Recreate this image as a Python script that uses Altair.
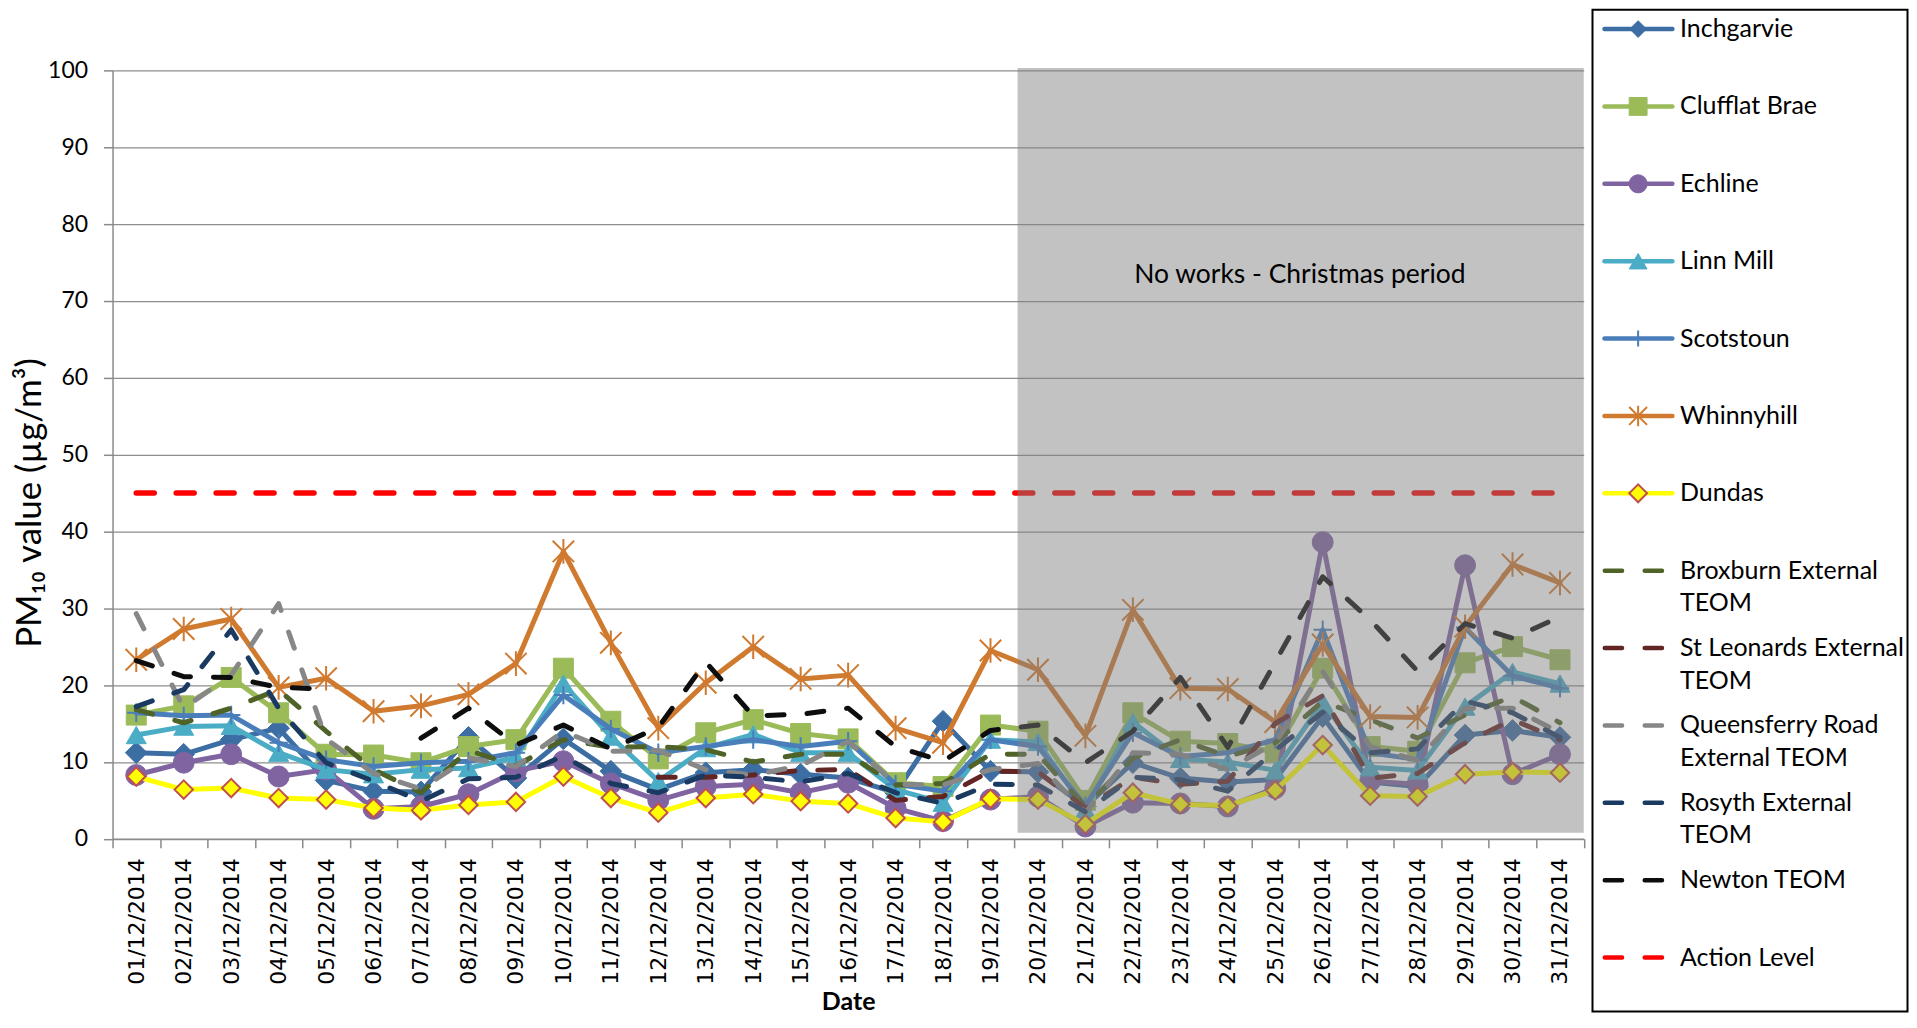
import json
import altair as alt
import pandas as pd

# ---------------- data ----------------
dates = ["01/12/2014", "02/12/2014", "03/12/2014", "04/12/2014", "05/12/2014",
         "06/12/2014", "07/12/2014", "08/12/2014", "09/12/2014", "10/12/2014",
         "11/12/2014", "12/12/2014", "13/12/2014", "14/12/2014", "15/12/2014",
         "16/12/2014", "17/12/2014", "18/12/2014", "19/12/2014", "20/12/2014",
         "21/12/2014", "22/12/2014", "23/12/2014", "24/12/2014", "25/12/2014",
         "26/12/2014", "27/12/2014", "28/12/2014", "29/12/2014", "30/12/2014",
         "31/12/2014"]
days = list(range(1, 32))

inchgarvie = [11.2, 11.0, 12.9, 14.4, 7.6, 6.2, 6.1, 13.2, 7.9, 13.0, 8.8, 6.4, 8.6, 9.0, 8.4, 7.9,
              6.0, 15.3, 8.8, 8.7, 4.2, 9.9, 7.9, 7.4, 7.7, 15.9, 7.4, 6.8, 13.5, 14.1, 13.2]
clufflat = [16.1, 17.3, 21.0, 16.4, 11.0, 10.9, 9.9, 12.0, 12.9, 22.2, 15.3, 10.4, 13.8, 15.5, 13.7, 13.0,
            7.3, 6.8, 14.8, 14.0, 5.0, 16.4, 12.7, 12.4, 11.3, 22.2, 12.0, 11.4, 22.9, 25.0, 23.3]
echline = [8.3, 9.9, 11.0, 8.1, 9.0, 3.9, 4.2, 5.8, 8.8, 10.1, 7.2, 5.0, 6.8, 7.1, 6.0, 7.3,
           4.0, 2.3, 5.1, 5.5, 1.6, 4.7, 4.6, 4.2, 6.6, 38.6, 7.5, 7.1, 35.6, 8.4, 11.0]
linn_mill = [13.5, 14.6, 14.7, 11.2, 9.0, 8.4, 9.0, 9.2, 10.6, 20.2, 13.3, 7.5, 11.8, 13.6, 11.2, 11.2,
             6.4, 4.7, 12.9, 12.6, 3.8, 15.2, 10.4, 10.0, 8.9, 17.8, 9.3, 8.9, 17.2, 21.7, 20.2]
scotstoun = [16.4, 16.0, 16.1, 12.5, 10.3, 9.4, 9.9, 10.1, 11.2, 18.7, 14.3, 11.2, 12.0, 12.9, 12.0, 12.7,
             7.1, 6.2, 12.9, 12.0, 4.3, 13.8, 10.7, 11.2, 12.9, 27.2, 11.2, 10.3, 27.5, 21.2, 19.6]
whinnyhill = [23.3, 27.3, 28.6, 19.7, 20.9, 16.6, 17.3, 18.8, 22.8, 37.4, 25.5, 14.4, 20.3, 25.0, 20.8, 21.3,
              14.4, 12.5, 24.5, 22.0, 13.4, 29.8, 19.6, 19.5, 15.2, 25.3, 15.9, 15.8, 27.6, 35.7, 33.3]
dundas = [8.1, 6.4, 6.6, 5.3, 5.1, 4.0, 3.7, 4.4, 4.8, 8.1, 5.3, 3.4, 5.3, 5.8, 4.9, 4.6,
          2.7, 2.2, 5.2, 5.1, 1.9, 6.0, 4.5, 4.3, 6.3, 12.2, 5.6, 5.5, 8.4, 8.7, 8.6]
broxburn = [16.8, 15.1, 17.0, 19.4, 14.0, 9.0, 6.0, 11.5, 9.5, 12.9, 11.9, 12.0, 11.6, 10.0, 11.0, 11.0,
            7.0, 7.2, 11.0, 11.0, 4.2, 10.5, 12.9, 10.7, 12.5, 17.9, 15.5, 13.1, 16.1, 18.5, 15.1]
st_leonards = [None, None, None, None, None, None, None, None, None, None, None, 8.0, 8.0, 8.3, 8.9, 9.0,
               5.0, 5.5, 8.8, 8.7, 4.0, 8.0, 7.1, 7.5, 15.0, 18.6, 7.9, 8.5, 12.5, 15.5, 12.9]
queensferry = [29.3, 17.0, 21.3, 30.6, 13.0, 8.5, 6.5, 10.5, 9.4, 14.0, 11.4, 11.5, 9.0, 8.3, 9.5, 12.7,
               7.1, 7.0, 9.0, 9.8, 3.4, 11.2, 11.0, 9.0, 12.5, 21.8, 12.0, 10.2, 17.0, 17.0, 13.8]
rosyth = [17.2, 19.4, 27.2, 17.0, 9.9, 7.5, 4.9, 7.8, 8.0, 10.8, 7.2, 6.0, 8.3, 8.0, 7.4, 8.5,
          6.0, 4.6, 7.1, 7.0, 3.5, 8.0, 7.7, 6.2, 11.5, 16.5, 11.2, 11.7, 17.9, 16.4, 13.2]
newton = [23.2, 21.1, 21.0, 19.7, 19.5, None, 13.1, 17.0, 12.2, 14.8, 11.7, 14.5, 23.0, 16.0, 16.2, 17.0,
          12.0, 10.1, 14.1, 14.8, 9.9, 14.0, 21.0, 11.9, 23.0, 34.1, 28.5, 21.8, 28.0, 26.1, 28.9]
action_level = [45] * 31

shade_days = [19.57, 31.5]
shade_values = [0.78, 100.3]
shade_note = "No works - Christmas period"
note_pos = [25.52, 73.4]

PLUS = "M-1,0L1,0M0,-1L0,1"
STAR = "M-1,-1L1,1M-1,1L1,-1M0,-1.15L0,1.15"
DASH = [17, 23]

series = [
    dict(name="Inchgarvie", values=inchgarvie, color="#3c6da3", w=5, dash=None,
         shape="diamond", size=470, fill="#3c6da3", stroke="#3c6da3", sw=1, lsize=280),
    dict(name="Clufflat Brae", values=clufflat, color="#9bbb59", w=5, dash=None,
         shape="square", size=400, fill="#9bbb59", stroke="#9bbb59", sw=1, lsize=320),
    dict(name="Echline", values=echline, color="#8064a2", w=5, dash=None,
         shape="circle", size=440, fill="#8064a2", stroke="#8064a2", sw=1, lsize=330),
    dict(name="Linn Mill", values=linn_mill, color="#4bacc6", w=5, dash=None,
         shape="triangle-up", size=400, fill="#4bacc6", stroke="#4bacc6", sw=1, lsize=320),
    dict(name="Scotstoun", values=scotstoun, color="#4a7ebb", w=5, dash=None,
         shape=PLUS, size=340, fill=None, stroke="#4a7ebb", sw=2, lsize=256),
    dict(name="Whinnyhill", values=whinnyhill, color="#d07a30", w=5, dash=None,
         shape=STAR, size=460, fill=None, stroke="#d07a30", sw=2, lsize=320),
    dict(name="Dundas", values=dundas, color="#ffff00", w=5, dash=None,
         shape="diamond", size=340, fill="#ffff00", stroke="#c0504d", sw=2, lsize=320),
    dict(name="Broxburn External|TEOM", values=broxburn, color="#4f6228", w=5, dash=DASH),
    dict(name="St Leonards External|TEOM", values=st_leonards, color="#632523", w=5, dash=DASH),
    dict(name="Queensferry Road|External TEOM", values=queensferry, color="#878787", w=5, dash=DASH),
    dict(name="Rosyth External|TEOM", values=rosyth, color="#1b3a62", w=5, dash=DASH),
    dict(name="Newton TEOM", values=newton, color="#0d0d0d", w=5, dash=DASH),
    dict(name="Action Level", values=action_level, color="#ff0000", w=5.5, dash=[18, 22]),
]

rows = []
for s in series:
    seg = 0
    for d, v in zip(days, s["values"]):
        if v is None:
            seg += 1
            continue
        rows.append({"series": s["name"], "day": d, "value": v, "seg": seg})
df = pd.DataFrame(rows)

# ---------------- layout (page pixels) ----------------
PLOT_L, PLOT_T = 112.7, 69.7
W, H = 1473.5, 769.6
BAND = W / 31

x_axis = alt.Axis(
    title="Date", titleFont="Lato", titleFontSize=25, titleFontWeight="bold", titleColor="black",
    titleBaseline="middle", titleY=1002 - (PLOT_T + H),
    values=[i + 0.5 for i in range(32)],
    labelExpr=json.dumps(dates) + "[datum.value - 0.5] || ''",
    labelOffset=BAND / 2, labelAngle=270, labelAlign="right", labelBaseline="middle",
    labelFont="DejaVu Sans", labelFontSize=22, labelColor="black", labelPadding=10,
    labelOverlap=False, labelFlush=False, labelBound=False,
    tickSize=9, tickColor="#8a8a8a", tickWidth=1.5,
    domainColor="#8a8a8a", domainWidth=1.5, grid=False,
)
y_axis = alt.Axis(
    title="PM₁₀ value (µg/m³)", titleFont="Lato", titleFontSize=35, titleFontWeight="normal",
    titleColor="black", titleAngle=270, titleAlign="center", titleBaseline="middle",
    titleX=30 - PLOT_L, titleY=502.5 - PLOT_T,
    values=list(range(0, 101, 10)),
    labelFont="Lato", labelFontSize=23, labelColor="black", labelPadding=16,
    tickSize=9, tickColor="#8a8a8a", tickWidth=1.5,
    domainColor="#8a8a8a", domainWidth=1.5,
    grid=True, gridColor="#8e8e8e", gridWidth=1.3,
)
xs = alt.Scale(domain=[0.5, 31.5], nice=False, zero=False)
ys = alt.Scale(domain=[0, 100], nice=False)

base = alt.Chart(df)
main_layers = []
for s in series:
    line_kw = dict(color=s["color"], strokeWidth=s["w"], strokeCap="round", strokeJoin="round")
    if s["dash"]:
        line_kw["strokeDash"] = s["dash"]
    main_layers.append(
        base.transform_filter(alt.datum.series == s["name"]).mark_line(**line_kw).encode(
            x=alt.X("day:Q", scale=xs, axis=x_axis),
            y=alt.Y("value:Q", scale=ys, axis=y_axis),
            detail="seg:N",
        )
    )
    if s.get("shape"):
        pkw = dict(shape=s["shape"], size=s["size"], opacity=1, strokeWidth=s["sw"], stroke=s["stroke"])
        if s["fill"]:
            pkw.update(filled=True, fill=s["fill"])
        else:
            pkw.update(filled=False)
        main_layers.append(
            base.transform_filter(alt.datum.series == s["name"]).mark_point(**pkw).encode(
                x=alt.X("day:Q", scale=xs, axis=x_axis),
                y=alt.Y("value:Q", scale=ys, axis=y_axis),
            )
        )

shade_df = pd.DataFrame({"x1": [shade_days[0]], "x2": [shade_days[1]],
                         "y1": [shade_values[0]], "y2": [shade_values[1]]})
main_layers.append(
    alt.Chart(shade_df).mark_rect(fill="#7d7d7d", fillOpacity=0.47).encode(
        x=alt.X("x1:Q", scale=xs, axis=x_axis), x2="x2:Q",
        y=alt.Y("y1:Q", scale=ys, axis=y_axis), y2="y2:Q",
    )
)
note_df = pd.DataFrame({"tx": [note_pos[0]], "ty": [note_pos[1]], "label": [shade_note]})
main_layers.append(
    alt.Chart(note_df).mark_text(font="Lato", fontSize=26.5, color="black", align="center",
                                 baseline="middle").encode(
        x=alt.X("tx:Q", scale=xs, axis=x_axis),
        y=alt.Y("ty:Q", scale=ys, axis=y_axis),
        text="label:N",
    )
)
main = alt.layer(*main_layers)

# ---------------- manual legend ----------------
BOX_L, BOX_R = 1595.0, 1910.5
BOX_W = BOX_R - BOX_L
lxs = alt.Scale(domain=[0, BOX_W], range=[BOX_L - PLOT_L, BOX_R - PLOT_L], nice=False, zero=False)
lys = alt.Scale(domain=[0, 12], range=[28.3 - PLOT_T, 958.3 - PLOT_T], nice=False, zero=False)

box_df = pd.DataFrame({"x1": [0], "x2": [BOX_W], "y1": [-0.249], "y2": [12.697]})
legend_layers = [
    alt.Chart(box_df).mark_rect(fill="white", stroke="black", strokeWidth=2).encode(
        x=alt.X("x1:Q", scale=lxs, axis=None), x2="x2:Q",
        y=alt.Y("y1:Q", scale=lys, axis=None), y2="y2:Q",
    )
]
for i, s in enumerate(series):
    if s["dash"]:
        seg_df = pd.DataFrame({"x1": [12.3], "x2": [69.6], "idx": [i]})
        rkw = dict(strokeDash=[17.3, 22.7])
    else:
        seg_df = pd.DataFrame({"x1": [12.0], "x2": [80.0], "idx": [i]})
        rkw = {}
    legend_layers.append(
        alt.Chart(seg_df).mark_rule(color=s["color"], strokeWidth=4.5,
                                    strokeCap="round", **rkw).encode(
            x=alt.X("x1:Q", scale=lxs, axis=None), x2="x2:Q",
            y=alt.Y("idx:Q", scale=lys, axis=None),
        )
    )
    if s.get("shape"):
        pkw = dict(shape=s["shape"], size=s["lsize"], opacity=1, strokeWidth=s["sw"], stroke=s["stroke"])
        if s["fill"]:
            pkw.update(filled=True, fill=s["fill"])
        else:
            pkw.update(filled=False)
        legend_layers.append(
            alt.Chart(pd.DataFrame({"mx": [45.7], "idx": [i]})).mark_point(**pkw).encode(
                x=alt.X("mx:Q", scale=lxs, axis=None),
                y=alt.Y("idx:Q", scale=lys, axis=None),
            )
        )

text_rows = []
for i, s in enumerate(series):
    for k, part in enumerate(s["name"].split("|")):
        text_rows.append({"tx": 87.7, "idx": i + k * 0.42, "text": part})
legend_layers.append(
    alt.Chart(pd.DataFrame(text_rows)).mark_text(font="Lato", fontSize=25, color="black",
                                                 align="left", baseline="middle").encode(
        x=alt.X("tx:Q", scale=lxs, axis=None),
        y=alt.Y("idx:Q", scale=lys, axis=None),
        text="text:N",
    )
)
legend = alt.layer(*legend_layers)

SVG_H = 1009
chart = alt.layer(main, legend).resolve_scale(x="independent", y="independent").properties(
    width=W, height=H,
    autosize=alt.AutoSizeParams(type="none"),
    padding={"left": PLOT_L - 8, "top": PLOT_T - 8, "right": BOX_R + 1.5 - PLOT_L - W,
             "bottom": SVG_H - (PLOT_T - 8) - H},
    background="white",
).configure_view(stroke=None)

chart.save("out.html", embed_options={"renderer": "svg", "actions": False})
